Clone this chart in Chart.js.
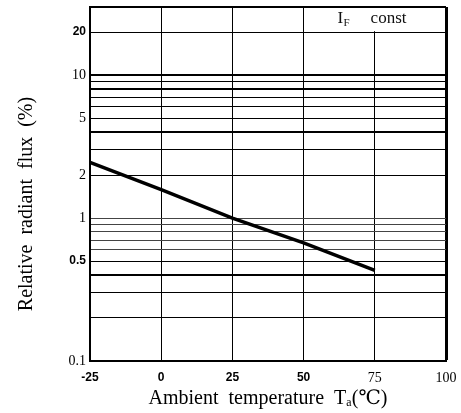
<!DOCTYPE html>
<html>
<head>
<meta charset="UTF-8">
<title>Relative radiant flux vs ambient temperature</title>
<script src="https://cdn.jsdelivr.net/npm/chart.js"></script>
<style>
    body { margin: 0; background: #fff; }
    #wrap { width: 461px; height: 413px; }
</style>
</head>
<body>
<div id="wrap"><canvas id="chart"></canvas></div>
<script>
// values
const temps = [-25, 0, 25, 50, 75];
const flux = [2.45, 1.58, 1.0, 0.67, 0.43];

const xTicks = [-25, 0, 25, 50, 75, 100];
const xBoldTicks = [-25, 0, 25, 50];
const yGrid = [0.1, 0.2, 0.3, 0.4, 0.5, 0.6, 0.7, 0.8, 0.9, 1, 2, 3, 4, 5, 6, 7, 8, 9, 10, 20, 30];
const yLabels = [0.1, 0.5, 1, 2, 5, 10, 20];
const yBoldTicks = [0.5, 20];
const heavyLines = [0.4, 4, 8, 10];

const serif = "'Liberation Serif', 'DejaVu Serif', serif";
const sans = "'Liberation Sans', Arial, sans-serif";

const tickVal = ctx => (ctx.tick ? ctx.tick.value : null);

const legendBox = {
    id: 'legendBox',
    afterDraw(chart) {
        const c = chart.ctx, x = chart.scales.x, y = chart.scales.y;
        const l = x.getPixelForValue(50) + 1, r = x.getPixelForValue(100) - 2;
        const t = y.getPixelForValue(30) + 1, b = y.getPixelForValue(20) - 1;
        c.save();
        c.fillStyle = '#fff';
        c.fillRect(l, t, r - l, b - t);
        c.fillStyle = '#111';
        c.textBaseline = 'alphabetic';
        c.font = '17px ' + serif;
        c.fillText('I', l + 33, b - 8);
        c.font = '11px ' + serif;
        c.fillText('F', l + 39, b - 5);
        c.font = '17px ' + serif;
        c.fillText('const', l + 66, b - 8);
        c.restore();
    }
};

new Chart(document.getElementById('chart'), {
    type: 'line',
    data: {
        datasets: [{
            data: temps.map((t, i) => ({ x: t, y: flux[i] })),
            borderColor: '#000',
            borderWidth: 3.5,
            pointRadius: 0,
            tension: 0
        }]
    },
    options: {
        responsive: true,
        maintainAspectRatio: false,
        animation: false,
        layout: { padding: { top: 7, right: 15, left: 0, bottom: 0 } },
        plugins: { legend: { display: false }, tooltip: { enabled: false } },
        scales: {
            x: {
                type: 'linear', min: -25, max: 100,
                afterBuildTicks: s => { s.ticks = xTicks.map(v => ({ value: v })); },
                afterFit: s => { s.height = 52; s.paddingLeft = 0; s.paddingRight = 0; },
                border: { display: true, color: '#000', width: 2 },
                grid: {
                    color: '#000',
                    lineWidth: ctx => tickVal(ctx) === 100 ? 3 : 1,
                    drawTicks: false
                },
                ticks: {
                    padding: 9,
                    color: '#000',
                    maxRotation: 0,
                    autoSkip: false,
                    font: ctx => xBoldTicks.includes(tickVal(ctx))
                        ? { family: sans, size: 12, weight: 'bold' }
                        : { family: serif, size: 14 }
                },
                title: {
                    display: true,
                    text: 'Ambient  temperature  Tₐ(℃)',
                    color: '#000',
                    font: { family: serif, size: 20 },
                    padding: { top: 0, bottom: 2 }
                }
            },
            y: {
                type: 'logarithmic', min: 0.1, max: 30,
                afterBuildTicks: s => { s.ticks = yGrid.map(v => ({ value: v })); },
                afterFit: s => { s.width = 90; s.paddingTop = 0; s.paddingBottom = 0; },
                border: { display: true, color: '#000', width: 2 },
                grid: {
                    color: ctx => { const v = tickVal(ctx); return v !== null && v < 2 && v > 0.5 ? '#444' : '#000'; },
                    lineWidth: ctx => { const v = tickVal(ctx); return heavyLines.includes(v) || v === 30 ? 2 : 1; },
                    drawTicks: false
                },
                ticks: {
                    padding: 4,
                    color: '#000',
                    autoSkip: false,
                    callback: v => yLabels.includes(v) ? String(v) : '',
                    font: ctx => yBoldTicks.includes(tickVal(ctx))
                        ? { family: sans, size: 12, weight: 'bold' }
                        : { family: serif, size: 14 }
                },
                title: {
                    display: true,
                    // trailing spaces push the visible text down, as in the original
                    text: 'Relative  radiant  flux  (%)        ',
                    color: '#000',
                    font: { family: serif, size: 20 },
                    padding: { top: 15, bottom: 0 }
                }
            }
        }
    },
    plugins: [legendBox]
});
</script>
</body>
</html>
